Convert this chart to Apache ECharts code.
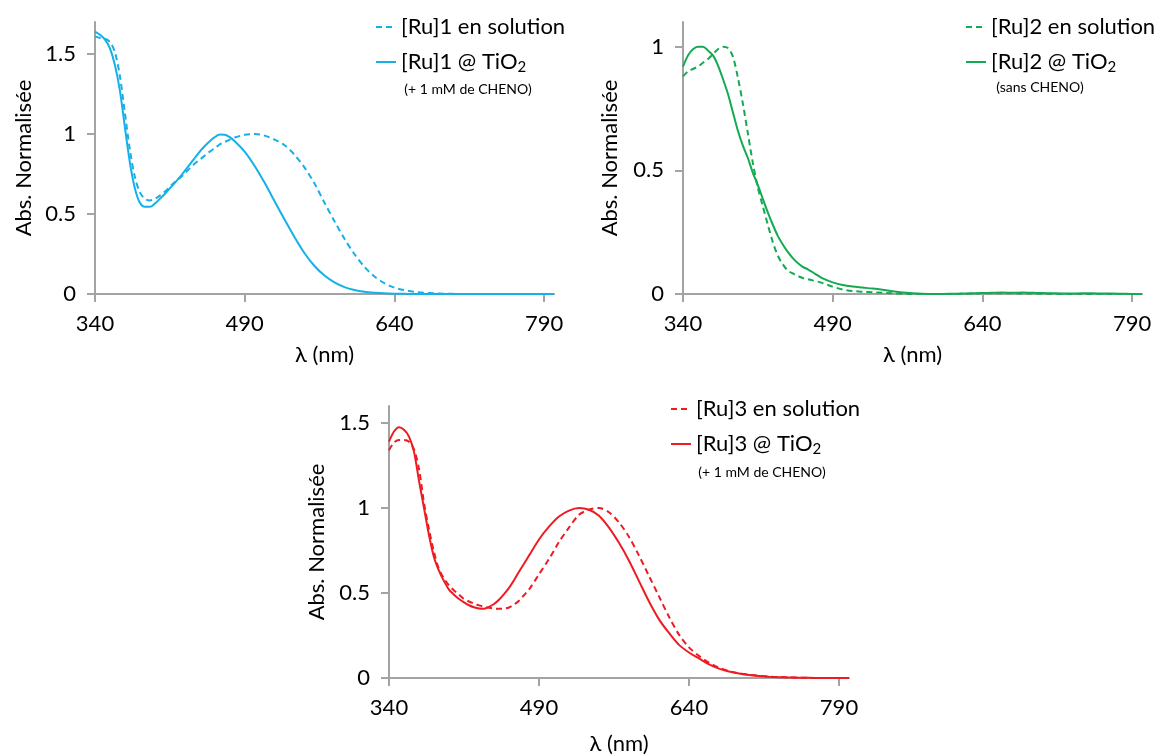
<!DOCTYPE html>
<html>
<head>
<meta charset="utf-8">
<script src="https://cdn.jsdelivr.net/npm/echarts@6/dist/echarts.min.js"></script>
<style>
html,body{margin:0;padding:0;background:#fff;}
#chart{width:1166px;height:756px;}
</style>
</head>
<body>
<div id="chart"></div>
<script>
// Wavelengths (nm): 5 nm steps to 480, then 10 nm steps
const NM = [340,345,350,355,360,365,370,375,380,385,390,395,400,405,410,415,420,425,430,435,440,445,450,455,460,465,470,475,480,
  490,500,510,520,530,540,550,560,570,580,590,600,610,620,630,640,650,660,670,680,690,700,710,720,730,740,750,760,770,780,790,800];

const X_TICKS = [340, 490, 640, 790];

const ru1Solution = [1.61,1.60,1.595,1.575,1.51,1.36,1.13,0.90,0.73,0.635,0.595,0.585,0.595,0.615,0.64,0.67,0.70,0.725,0.755,0.785,0.815,0.84,0.865,0.89,0.91,0.935,0.95,0.965,0.978,
  0.995,1.0,0.99,0.965,0.93,0.87,0.79,0.69,0.57,0.455,0.345,0.25,0.17,0.11,0.068,0.04,0.024,0.014,0.008,0.004,0.002,0.001,0,0,0,0,0,0,0,0,0,0];
const ru1TiO2 = [1.64,1.62,1.59,1.535,1.43,1.27,1.04,0.82,0.66,0.57,0.545,0.545,0.565,0.595,0.625,0.66,0.695,0.73,0.77,0.81,0.85,0.89,0.925,0.955,0.98,0.997,0.995,0.98,0.955,
  0.89,0.80,0.695,0.58,0.465,0.355,0.255,0.175,0.115,0.072,0.043,0.025,0.014,0.008,0.004,0.002,0.001,0,0,0,0,0,0,0,0,0,0,0,0,0,0,0];

const ru2Solution = [0.88,0.90,0.91,0.92,0.935,0.95,0.97,0.99,1.0,0.995,0.96,0.875,0.77,0.65,0.53,0.43,0.355,0.28,0.21,0.155,0.12,0.095,0.083,0.073,0.065,0.06,0.055,0.05,0.044,
  0.03,0.018,0.012,0.009,0.007,0.005,0.003,0.001,0,0,0,0,0,0.001,0.002,0.003,0.003,0.003,0.003,0.002,0.002,0.001,0.001,0,0,0,0,0,0,0,0,0];
const ru2TiO2 = [0.92,0.965,0.99,1.0,1.0,0.985,0.965,0.925,0.87,0.81,0.735,0.66,0.60,0.55,0.49,0.44,0.385,0.33,0.28,0.235,0.20,0.17,0.145,0.125,0.11,0.10,0.088,0.075,0.063,
  0.047,0.036,0.03,0.026,0.022,0.017,0.011,0.006,0.003,0.001,0,0,0.001,0.002,0.003,0.004,0.005,0.006,0.005,0.006,0.005,0.004,0.003,0.002,0.002,0.003,0.003,0.002,0.002,0.001,0,0];

const ru3Solution = [1.34,1.385,1.40,1.40,1.39,1.345,1.23,1.03,0.875,0.74,0.64,0.585,0.545,0.515,0.49,0.465,0.45,0.438,0.427,0.42,0.413,0.409,0.407,0.408,0.415,0.432,0.455,0.487,0.52,
  0.61,0.70,0.80,0.885,0.96,0.99,1.0,0.975,0.915,0.83,0.72,0.60,0.48,0.36,0.255,0.18,0.13,0.09,0.06,0.041,0.028,0.019,0.013,0.008,0.005,0.003,0.002,0.001,0,0,0,0];
const ru3TiO2 = [1.39,1.45,1.475,1.46,1.42,1.33,1.16,1.0,0.84,0.71,0.63,0.57,0.52,0.49,0.465,0.445,0.428,0.416,0.409,0.408,0.418,0.435,0.46,0.493,0.53,0.575,0.625,0.672,0.72,
  0.815,0.89,0.95,0.985,1.0,0.99,0.955,0.885,0.795,0.69,0.57,0.45,0.345,0.265,0.195,0.15,0.115,0.08,0.055,0.038,0.026,0.018,0.012,0.008,0.005,0.003,0.002,0.001,0,0,0,0];

const NAMES = [
  ['[Ru]1 en solution', '[Ru]1 @ TiO2'],
  ['[Ru]2 en solution', '[Ru]2 @ TiO2'],
  ['[Ru]3 en solution', '[Ru]3 @ TiO2']
];
const NOTES = ['(+ 1 mM de CHENO)', '(sans CHENO)', '(+ 1 mM de CHENO)'];
const Y_MAX = [1.7, 1.1, 1.6];
const Y_TICKS = [[0, 0.5, 1, 1.5], [0, 0.5, 1], [0, 0.5, 1, 1.5]];
const COLORS = ['#16B0E8', '#14AA52', '#EF1B23'];
const X_NAME = 'λ (nm)';
const Y_NAME = 'Abs. Normalisée';

const FONT = 'Lato';
const AXIS_GRAY = '#A3A3A3';

const grids = [
  {left: 95, top: 22, width: 459, height: 272},
  {left: 683, top: 22, width: 459, height: 272},
  {left: 389, top: 406, width: 460, height: 272}
];
const xNameGap = [50, 50, 55];
const yNameGap = [60, 62, 61];
const legendPos = [
  {left: 370, top: 11},
  {left: 960, top: 11},
  {left: 665, top: 393}
];
const notePos = [[468, 89], [1040, 87], [762, 472]];

const pairs = (ys) => NM.map((x, i) => [x, ys[i]]);
const seriesData = [[ru1Solution, ru1TiO2], [ru2Solution, ru2TiO2], [ru3Solution, ru3TiO2]];

const xAxes = [], yAxes = [], series = [], legends = [], graphics = [];
for (let p = 0; p < 3; p++) {
  xAxes.push({
    type: 'value', gridIndex: p, min: 340, max: 800, interval: 150,
    name: X_NAME, nameLocation: 'middle', nameGap: xNameGap[p],
    nameTextStyle: {fontFamily: FONT, fontSize: 22, color: '#000'},
    axisLine: {show: true, lineStyle: {color: AXIS_GRAY, width: 2}},
    axisTick: {show: true, length: 8, inside: false, lineStyle: {color: AXIS_GRAY, width: 2}, customValues: X_TICKS},
    axisLabel: {fontFamily: FONT, fontSize: 22, color: '#000', margin: 19, customValues: X_TICKS},
    splitLine: {show: false}
  });
  yAxes.push({
    type: 'value', gridIndex: p, min: 0, max: Y_MAX[p], interval: 0.5,
    name: Y_NAME, nameLocation: 'middle', nameGap: yNameGap[p], nameRotate: 90,
    nameTextStyle: {fontFamily: FONT, fontSize: 22, color: '#000'},
    axisLine: {show: true, onZero: false, lineStyle: {color: AXIS_GRAY, width: 2}},
    axisTick: {show: true, length: 8, lineStyle: {color: AXIS_GRAY, width: 2}, customValues: Y_TICKS[p]},
    axisLabel: {fontFamily: FONT, fontSize: 22, color: '#000', margin: 19, customValues: Y_TICKS[p]},
    splitLine: {show: false}
  });
  for (let s = 0; s < 2; s++) {
    series.push({
      type: 'line', name: NAMES[p][s], xAxisIndex: p, yAxisIndex: p,
      data: pairs(seriesData[p][s]),
      showSymbol: false, symbol: 'none', smooth: 0.3, silent: true, animation: false,
      itemStyle: {color: COLORS[p]},
      lineStyle: {color: COLORS[p], width: 2, type: s === 0 ? [6, 4] : 'solid'}
    });
  }
  legends.push({
    data: NAMES[p], orient: 'vertical', left: legendPos[p].left, top: legendPos[p].top,
    itemWidth: 20, itemHeight: 14, itemGap: 13, selectedMode: false,
    itemStyle: {opacity: 0},
    textStyle: {
      fontFamily: FONT, fontSize: 22, color: '#000',
      rich: {
        sub: {fontFamily: FONT, fontSize: 15, color: '#000', verticalAlign: 'bottom', padding: [11, 0, 0, 0]}
      }
    },
    formatter: (name) => name.replace('TiO2', 'TiO{sub|2}')
  });
  graphics.push({
    type: 'text', x: notePos[p][0], y: notePos[p][1], silent: true,
    style: {text: NOTES[p], fontFamily: FONT, fontSize: 14, fill: '#000', align: 'center', verticalAlign: 'middle'}
  });
}

const chart = echarts.init(document.getElementById('chart'), null, {renderer: 'canvas'});
chart.setOption({
  backgroundColor: '#fff',
  animation: false,
  grid: grids,
  xAxis: xAxes,
  yAxis: yAxes,
  legend: legends,
  series: series,
  graphic: graphics
});
</script>
</body>
</html>
